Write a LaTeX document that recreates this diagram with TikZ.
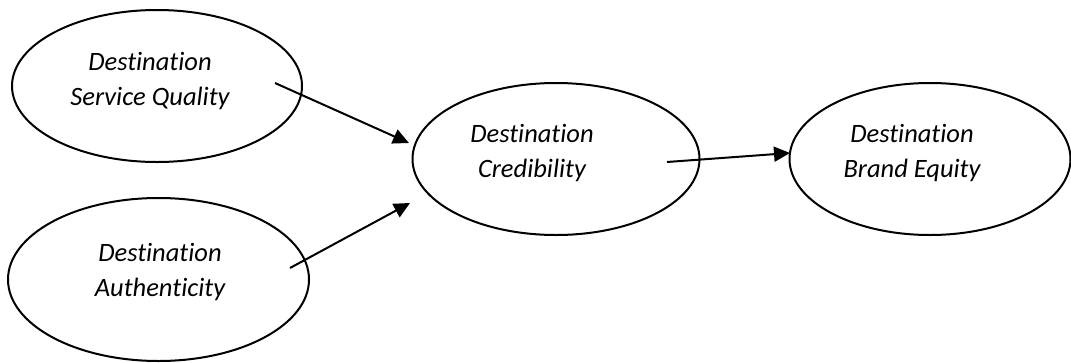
\documentclass[tikz,border=0pt]{standalone}
\usepackage{fontspec}
\setmainfont{Carlito}[Ligatures={NoCommon}]
\usetikzlibrary{shapes.geometric,arrows.meta}
\begin{document}
\begin{tikzpicture}[x=1pt,y=-1pt,
  oval/.style={draw=black,line width=2pt,ellipse,inner sep=0pt},
  lbl/.style={font=\fontsize{26.5}{35}\selectfont\itshape,align=center,anchor=base,inner sep=0pt},
  link/.style={draw=black,line width=2pt,-{Triangle[length=16pt,width=15pt]}}]
\fill[white] (0,0) rectangle (1071,362);
\useasboundingbox (0,0) rectangle (1071,362);
% ellipses
\node[oval,minimum width=290pt,minimum height=152pt] (sq) at (157,86) {};
\node[oval,minimum width=301pt,minimum height=163pt] (au) at (158.5,279.5) {};
\node[oval,minimum width=287pt,minimum height=152pt] (cr) at (556,159) {};
\node[oval,minimum width=281pt,minimum height=152pt] (be) at (930,159) {};
% texts (anchor = baseline of last line)
\node[lbl] (sqt) at (150,105) {Destination\\Service Quality};
\node[lbl] (aut) at (160,296) {Destination\\Authenticity};
\node[lbl] (crt) at (532,177) {Destination\\Credibility};
\node[lbl] (bet) at (912,177) {Destination\\Brand Equity};
% connector ends
\coordinate (sqo) at (275,83);
\coordinate (auo) at (290,268);
\coordinate (cro) at (667,162);
\coordinate (cri1) at (409,143);
\coordinate (cri2) at (410,203);
\coordinate (bei) at (790,153);
\draw[link] (sqo) -- (cri1);
\draw[link] (auo) -- (cri2);
\draw[link] (cro) -- (bei);
\end{tikzpicture}
\end{document}
